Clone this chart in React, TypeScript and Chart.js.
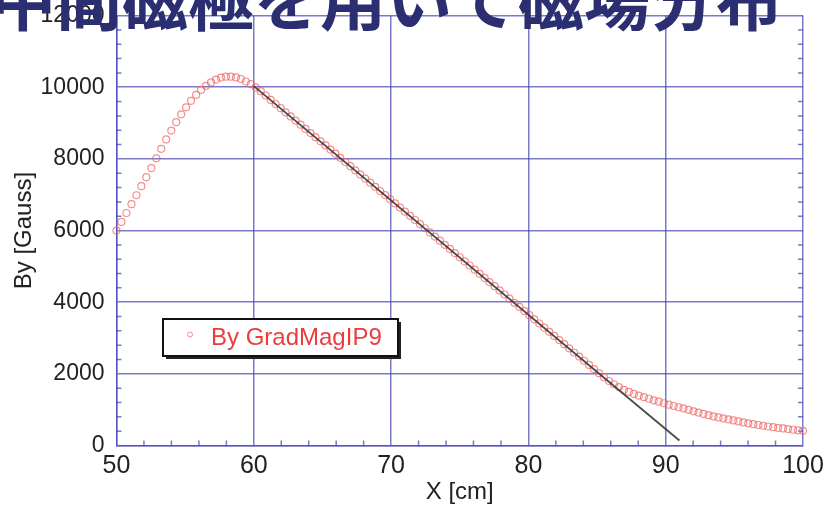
import React, { useEffect, useRef } from "react";
import { Chart, registerables } from "chart.js";

Chart.register(...registerables);

const TITLE_TEXT = "中間磁極を用いて磁場分布";
const SERIES_LABEL = "By GradMagIP9";
const X_AXIS_TITLE = "X [cm]";
const Y_AXIS_TITLE = "By [Gauss]";

const X_TICKS = [50, 60, 70, 80, 90, 100];
const Y_TICKS = [0, 2000, 4000, 6000, 8000, 10000, 12000];

const X_VALUES = [
  50.0, 50.36, 50.72, 51.09, 51.45, 51.81, 52.17, 52.54, 52.9, 53.26,
  53.62, 53.99, 54.35, 54.71, 55.07, 55.43, 55.8, 56.16, 56.52, 56.88,
  57.25, 57.61, 57.97, 58.33, 58.7, 59.06, 59.42, 59.78, 60.14, 60.51,
  60.87, 61.23, 61.59, 61.96, 62.32, 62.68, 63.04, 63.41, 63.77, 64.13,
  64.49, 64.86, 65.22, 65.58, 65.94, 66.3, 66.67, 67.03, 67.39, 67.75,
  68.12, 68.48, 68.84, 69.2, 69.57, 69.93, 70.29, 70.65, 71.01, 71.38,
  71.74, 72.1, 72.46, 72.83, 73.19, 73.55, 73.91, 74.28, 74.64, 75.0,
  75.36, 75.72, 76.09, 76.45, 76.81, 77.17, 77.54, 77.9, 78.26, 78.62,
  78.99, 79.35, 79.71, 80.07, 80.43, 80.8, 81.16, 81.52, 81.88, 82.25,
  82.61, 82.97, 83.33, 83.7, 84.06, 84.42, 84.78, 85.14, 85.51, 85.87,
  86.23, 86.59, 86.96, 87.32, 87.68, 88.04, 88.41, 88.77, 89.13, 89.49,
  89.86, 90.22, 90.58, 90.94, 91.3, 91.67, 92.03, 92.39, 92.75, 93.12,
  93.48, 93.84, 94.2, 94.57, 94.93, 95.29, 95.65, 96.01, 96.38, 96.74,
  97.1, 97.46, 97.83, 98.19, 98.55, 98.91, 99.28, 99.64, 100.0,
];

const BY_VALUES = [
  6000, 6240, 6490, 6735, 6985, 7240, 7490, 7745, 8015, 8280,
  8545, 8790, 9025, 9245, 9440, 9620, 9785, 9925, 10040, 10135,
  10215, 10270, 10295, 10295, 10275, 10230, 10160, 10085, 9995, 9890,
  9770, 9647, 9532, 9416, 9300, 9185, 9069, 8954, 8838, 8722,
  8607, 8491, 8376, 8260, 8145, 8029, 7913, 7798, 7682, 7567,
  7451, 7335, 7220, 7104, 6989, 6873, 6757, 6642, 6526, 6411,
  6295, 6180, 6064, 5948, 5833, 5717, 5602, 5486, 5370, 5255,
  5139, 5024, 4908, 4792, 4677, 4561, 4446, 4330, 4215, 4099,
  3983, 3868, 3752, 3637, 3521, 3405, 3290, 3174, 3059, 2943,
  2827, 2712, 2596, 2481, 2365, 2249, 2134, 2018, 1905, 1800,
  1710, 1630, 1555, 1495, 1440, 1392, 1348, 1305, 1262, 1222,
  1180, 1140, 1102, 1068, 1035, 995, 955, 918, 882, 846,
  812, 785, 758, 728, 700, 672, 645, 618, 595, 572,
  550, 530, 512, 494, 476, 458, 440, 424, 410,
];

const FIT_X = [60, 91];
const FIT_Y = [10030, 140];

const X_MINOR_STEP = 2;
const Y_MINOR_STEP = 400;

const GRID_COLOR = "rgba(70, 70, 180, 0.72)";
const FONT = '"Liberation Sans", Arial, sans-serif';

const minorTicksPlugin = {
  id: "minorTicks",
  beforeDatasetsDraw(chart: any) {
    const { ctx, chartArea, scales } = chart;
    const xs = scales.x;
    const ys = scales.y;
    ctx.save();
    ctx.strokeStyle = GRID_COLOR;
    ctx.lineWidth = 1.5;
    ctx.beginPath();
    for (let v = xs.min; v <= xs.max; v += X_MINOR_STEP) {
      if (X_TICKS.includes(v)) continue;
      const px = xs.getPixelForValue(v);
      ctx.moveTo(px, chartArea.bottom);
      ctx.lineTo(px, chartArea.bottom - 5);
    }
    for (let v = ys.min; v <= ys.max; v += Y_MINOR_STEP) {
      if (Y_TICKS.includes(v)) continue;
      const py = ys.getPixelForValue(v);
      ctx.moveTo(chartArea.left, py);
      ctx.lineTo(chartArea.left + 5, py);
      ctx.moveTo(chartArea.right, py);
      ctx.lineTo(chartArea.right - 5, py);
    }
    ctx.stroke();
    ctx.restore();
  },
};

const overlayPlugin = {
  id: "overlay",
  afterDraw(chart: any) {
    const { ctx } = chart;
    ctx.save();
    // legend box
    const bx = 163, by = 319, bw = 235, bh = 37;
    ctx.fillStyle = "#222";
    ctx.fillRect(bx + 3, by + 3, bw, bh);
    ctx.fillStyle = "#fff";
    ctx.fillRect(bx, by, bw, bh);
    ctx.strokeStyle = "#111";
    ctx.lineWidth = 2;
    ctx.strokeRect(bx, by, bw, bh);
    ctx.beginPath();
    ctx.arc(190, 334.5, 2.5, 0, Math.PI * 2);
    ctx.strokeStyle = "rgba(240, 100, 100, 0.75)";
    ctx.lineWidth = 1;
    ctx.stroke();
    ctx.fillStyle = "#ec3c3c";
    ctx.font = `24px ${FONT}`;
    ctx.textBaseline = "middle";
    ctx.textAlign = "left";
    ctx.fillText(SERIES_LABEL, 211, 338);
    // title (cut off at top)
    ctx.fillStyle = "#2b2e70";
    ctx.font = 'bold 66px "Noto Sans CJK JP", "Noto Sans CJK SC", sans-serif';
    ctx.textBaseline = "alphabetic";
    ctx.fillText(TITLE_TEXT, -10, 25);
    ctx.restore();
  },
};

export default function App() {
  const canvasRef = useRef<HTMLCanvasElement | null>(null);

  useEffect(() => {
    if (!canvasRef.current) return;
    const scatterData = X_VALUES.map((x, i) => ({ x, y: BY_VALUES[i] }));
    const fitData = FIT_X.map((x, i) => ({ x, y: FIT_Y[i] }));
    const chart = new Chart(canvasRef.current, {
      type: "scatter",
      data: {
        datasets: [
          {
            label: "fit",
            data: fitData,
            showLine: true,
            borderColor: "rgba(55, 55, 55, 0.9)",
            borderWidth: 1.8,
            pointRadius: 0,
            clip: 10,
          } as any,
          {
            label: SERIES_LABEL,
            data: scatterData,
            pointRadius: 3.5,
            pointBorderWidth: 1.2,
            pointBorderColor: "rgba(240, 100, 100, 0.72)",
            pointBackgroundColor: "rgba(255,255,255,0)",
            showLine: false,
            clip: 10,
          } as any,
        ],
      },
      options: {
        responsive: false,
        devicePixelRatio: 1,
        animation: false,
        layout: { padding: { top: 15.6, right: 22, left: 0, bottom: 0 } },
        plugins: { legend: { display: false }, tooltip: { enabled: false } },
        scales: {
          x: {
            type: "linear",
            min: 50,
            max: 100,
            afterFit: (s: any) => {
              s.height = 61.5;
              s.paddingLeft = 0;
              s.paddingRight = 0;
            },
            afterBuildTicks: (s: any) => {
              s.ticks = X_TICKS.map((v) => ({ value: v }));
            },
            ticks: {
              callback: (v: any) => String(v),
              color: "#222",
              font: { family: FONT, size: 25 },
              padding: 6,
              maxRotation: 0,
            },
            grid: { color: GRID_COLOR, lineWidth: 1.5, drawTicks: false },
            border: { color: GRID_COLOR, width: 1.5 },
            title: {
              display: true,
              text: X_AXIS_TITLE,
              color: "#222",
              font: { family: FONT, size: 24 },
              padding: { top: 0, bottom: 0 },
            },
          },
          y: {
            type: "linear",
            min: 0,
            max: 12000,
            afterFit: (s: any) => {
              s.width = 116.5;
              s.paddingTop = 0;
              s.paddingBottom = 0;
            },
            afterBuildTicks: (s: any) => {
              s.ticks = Y_TICKS.map((v) => ({ value: v }));
            },
            ticks: {
              callback: (v: any) => String(v),
              color: "#222",
              font: { family: FONT, size: 23 },
              padding: 12,
            },
            grid: { color: GRID_COLOR, lineWidth: 1.5, drawTicks: false },
            border: { color: GRID_COLOR, width: 1.5 },
            title: {
              display: true,
              text: Y_AXIS_TITLE,
              color: "#222",
              font: { family: FONT, size: 24 },
              padding: { top: 10, bottom: 0 },
            },
          },
        },
      },
      plugins: [minorTicksPlugin, overlayPlugin],
    });
    return () => chart.destroy();
  }, []);

  return (
    <div
      style={{
        position: "fixed",
        left: 0,
        top: 0,
        width: 825,
        height: 507,
        background: "#fff",
        overflow: "hidden",
      }}
    >
      <canvas
        ref={canvasRef}
        width={825}
        height={507}
        style={{ display: "block", width: 825, height: 507 }}
      />
    </div>
  );
}
